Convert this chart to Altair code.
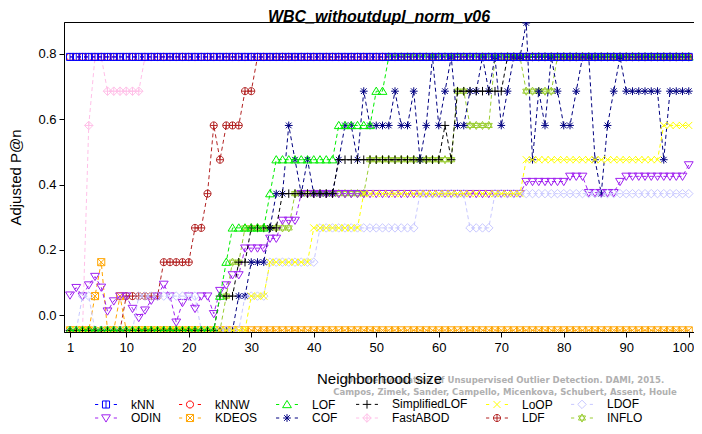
import altair as alt
import pandas as pd

# ---------------- data ----------------
k = list(range(1, 101))

kNN = [0.791, 0.791, 0.791, 0.791, 0.791, 0.791, 0.791, 0.791, 0.791, 0.791,
       0.791, 0.791, 0.791, 0.791, 0.791, 0.791, 0.791, 0.791, 0.791, 0.791,
       0.791, 0.791, 0.791, 0.791, 0.791, 0.791, 0.791, 0.791, 0.791, 0.791,
       0.791, 0.791, 0.791, 0.791, 0.791, 0.791, 0.791, 0.791, 0.791, 0.791,
       0.791, 0.791, 0.791, 0.791, 0.791, 0.791, 0.791, 0.791, 0.791, 0.791,
       0.791, 0.791, 0.791, 0.791, 0.791, 0.791, 0.791, 0.791, 0.791, 0.791,
       0.791, 0.791, 0.791, 0.791, 0.791, 0.791, 0.791, 0.791, 0.791, 0.791,
       0.791, 0.791, 0.791, 0.791, 0.791, 0.791, 0.791, 0.791, 0.791, 0.791,
       0.791, 0.791, 0.791, 0.791, 0.791, 0.791, 0.791, 0.791, 0.791, 0.791,
       0.791, 0.791, 0.791, 0.791, 0.791, 0.791, 0.791, 0.791, 0.791, 0.791]

kNNW = [0.791, 0.791, 0.791, 0.791, 0.791, 0.791, 0.791, 0.791, 0.791, 0.791,
        0.791, 0.791, 0.791, 0.791, 0.791, 0.791, 0.791, 0.791, 0.791, 0.791,
        0.791, 0.791, 0.791, 0.791, 0.791, 0.791, 0.791, 0.791, 0.791, 0.791,
        0.791, 0.791, 0.791, 0.791, 0.791, 0.791, 0.791, 0.791, 0.791, 0.791,
        0.791, 0.791, 0.791, 0.791, 0.791, 0.791, 0.791, 0.791, 0.791, 0.791,
        0.791, 0.791, 0.791, 0.791, 0.791, 0.791, 0.791, 0.791, 0.791, 0.791,
        0.791, 0.791, 0.791, 0.791, 0.791, 0.791, 0.791, 0.791, 0.791, 0.791,
        0.791, 0.791, 0.791, 0.791, 0.791, 0.791, 0.791, 0.791, 0.791, 0.791,
        0.791, 0.791, 0.791, 0.791, 0.791, 0.791, 0.791, 0.791, 0.791, 0.791,
        0.791, 0.791, 0.791, 0.791, 0.791, 0.791, 0.791, 0.791, 0.791, 0.791]

LOF = [-0.047, -0.047, -0.047, -0.047, -0.047, -0.047, -0.047, -0.047, -0.047, -0.047,
       -0.047, -0.047, -0.047, -0.047, -0.047, -0.047, -0.047, -0.047, -0.047, -0.047,
       -0.047, -0.047, -0.047, -0.047, 0.058, 0.162, 0.267, 0.267, 0.267, 0.267,
       0.267, 0.267, 0.372, 0.476, 0.476, 0.476, 0.476, 0.476, 0.476, 0.476,
       0.476, 0.476, 0.476, 0.581, 0.581, 0.581, 0.581, 0.581, 0.581, 0.686,
       0.686, 0.791, 0.791, 0.791, 0.791, 0.791, 0.791, 0.791, 0.791, 0.791,
       0.791, 0.791, 0.791, 0.791, 0.791, 0.791, 0.791, 0.791, 0.791, 0.791,
       0.791, 0.791, 0.791, 0.791, 0.791, 0.791, 0.791, 0.791, 0.791, 0.791,
       0.791, 0.791, 0.791, 0.791, 0.791, 0.791, 0.791, 0.791, 0.791, 0.791,
       0.791, 0.791, 0.791, 0.791, 0.791, 0.791, 0.791, 0.791, 0.791, 0.791]

SimplifiedLOF = [-0.047, -0.047, -0.047, -0.047, -0.047, -0.047, -0.047, -0.047, -0.047, -0.047,
                 -0.047, -0.047, -0.047, -0.047, -0.047, -0.047, -0.047, -0.047, -0.047, -0.047,
                 -0.047, -0.047, -0.047, -0.047, 0.058, 0.058, 0.058, 0.162, 0.162, 0.267,
                 0.267, 0.267, 0.267, 0.267, 0.372, 0.372, 0.372, 0.372, 0.372, 0.372,
                 0.372, 0.372, 0.372, 0.476, 0.476, 0.476, 0.476, 0.476, 0.476, 0.476,
                 0.476, 0.476, 0.476, 0.476, 0.476, 0.476, 0.476, 0.476, 0.476, 0.476,
                 0.581, 0.476, 0.686, 0.686, 0.686, 0.686, 0.686, 0.686, 0.686, 0.686,
                 0.791, 0.791, 0.791, 0.791, 0.791, 0.791, 0.791, 0.791, 0.791, 0.791,
                 0.791, 0.791, 0.791, 0.791, 0.791, 0.791, 0.791, 0.791, 0.791, 0.791,
                 0.791, 0.791, 0.791, 0.791, 0.791, 0.791, 0.791, 0.791, 0.791, 0.791]

LoOP = [-0.047, -0.047, -0.047, -0.047, -0.047, -0.047, -0.047, -0.047, -0.047, -0.047,
        -0.047, -0.047, -0.047, -0.047, -0.047, -0.047, -0.047, -0.047, -0.047, -0.047,
        -0.047, -0.047, -0.047, -0.047, -0.047, -0.047, -0.047, -0.047, -0.047, 0.058,
        0.058, 0.058, 0.162, 0.162, 0.162, 0.162, 0.162, 0.162, 0.162, 0.267,
        0.267, 0.267, 0.267, 0.267, 0.267, 0.267, 0.267, 0.372, 0.372, 0.372,
        0.372, 0.372, 0.372, 0.372, 0.372, 0.372, 0.372, 0.372, 0.372, 0.372,
        0.372, 0.372, 0.372, 0.372, 0.372, 0.372, 0.372, 0.372, 0.372, 0.372,
        0.372, 0.372, 0.372, 0.476, 0.476, 0.476, 0.476, 0.476, 0.476, 0.476,
        0.476, 0.476, 0.476, 0.476, 0.476, 0.476, 0.476, 0.476, 0.476, 0.476,
        0.476, 0.476, 0.476, 0.476, 0.476, 0.581, 0.581, 0.581, 0.581, 0.581]

LDOF = [-0.047, -0.047, 0.058, 0.058, -0.047, -0.047, -0.047, -0.047, -0.047, -0.047,
        -0.047, 0.058, 0.058, 0.058, 0.058, 0.058, 0.058, 0.058, 0.058, 0.058,
        0.058, -0.047, -0.047, -0.047, -0.047, -0.047, -0.047, -0.047, 0.058, 0.058,
        0.058, 0.058, 0.162, 0.162, 0.162, 0.162, 0.162, 0.162, 0.162, 0.162,
        0.267, 0.267, 0.267, 0.267, 0.267, 0.267, 0.267, 0.267, 0.267, 0.267,
        0.267, 0.267, 0.267, 0.267, 0.267, 0.267, 0.372, 0.372, 0.372, 0.372,
        0.372, 0.372, 0.372, 0.372, 0.267, 0.267, 0.267, 0.267, 0.372, 0.372,
        0.372, 0.372, 0.372, 0.372, 0.372, 0.372, 0.372, 0.372, 0.372, 0.372,
        0.372, 0.372, 0.372, 0.372, 0.372, 0.372, 0.372, 0.372, 0.372, 0.372,
        0.372, 0.372, 0.372, 0.372, 0.372, 0.372, 0.372, 0.372, 0.372, 0.372]

ODIN = [0.061, 0.084, 0.058, 0.092, 0.118, 0.085, 0.012, 0.043, 0.058, 0.058,
        0.020, -0.008, 0.015, 0.045, 0.058, 0.094, 0.058, -0.022, 0.038, 0.058,
        0.020, 0.058, 0.058, 0.004, 0.075, 0.092, 0.123, 0.123, 0.205, 0.205,
        0.205, 0.205, 0.235, 0.235, 0.290, 0.290, 0.290, 0.372, 0.372, 0.372,
        0.372, 0.372, 0.372, 0.372, 0.372, 0.372, 0.372, 0.372, 0.372, 0.372,
        0.372, 0.372, 0.372, 0.372, 0.372, 0.372, 0.372, 0.372, 0.372, 0.372,
        0.372, 0.372, 0.372, 0.372, 0.372, 0.372, 0.372, 0.372, 0.372, 0.372,
        0.372, 0.372, 0.372, 0.409, 0.409, 0.409, 0.409, 0.409, 0.409, 0.409,
        0.425, 0.425, 0.425, 0.375, 0.375, 0.375, 0.375, 0.375, 0.409, 0.425,
        0.425, 0.425, 0.425, 0.425, 0.425, 0.425, 0.425, 0.425, 0.425, 0.460]

KDEOS = [-0.047, -0.047, -0.047, -0.047, 0.058, 0.162, -0.047, -0.047, 0.058, -0.047,
         -0.047, -0.047, -0.047, -0.047, -0.047, -0.047, -0.047, -0.047, -0.047, -0.047,
         -0.047, -0.047, -0.047, -0.047, -0.047, -0.047, -0.047, -0.047, -0.047, -0.047,
         -0.047, -0.047, -0.047, -0.047, -0.047, -0.047, -0.047, -0.047, -0.047, -0.047,
         -0.047, -0.047, -0.047, -0.047, -0.047, -0.047, -0.047, -0.047, -0.047, -0.047,
         -0.047, -0.047, -0.047, -0.047, -0.047, -0.047, -0.047, -0.047, -0.047, -0.047,
         -0.047, -0.047, -0.047, -0.047, -0.047, -0.047, -0.047, -0.047, -0.047, -0.047,
         -0.047, -0.047, -0.047, -0.047, -0.047, -0.047, -0.047, -0.047, -0.047, -0.047,
         -0.047, -0.047, -0.047, -0.047, -0.047, -0.047, -0.047, -0.047, -0.047, -0.047,
         -0.047, -0.047, -0.047, -0.047, -0.047, -0.047, -0.047, -0.047, -0.047, -0.047]

COF = [-0.047, -0.047, -0.047, -0.047, -0.047, -0.047, -0.047, -0.047, -0.047, -0.047,
       -0.047, -0.047, -0.047, -0.047, -0.047, -0.047, -0.047, -0.047, -0.047, -0.047,
       -0.047, -0.047, -0.047, -0.047, -0.047, -0.047, -0.047, 0.058, 0.058, 0.162,
       0.162, 0.162, 0.267, 0.372, 0.372, 0.581, 0.476, 0.372, 0.476, 0.372,
       0.372, 0.372, 0.372, 0.476, 0.581, 0.581, 0.476, 0.686, 0.581, 0.581,
       0.581, 0.581, 0.686, 0.581, 0.581, 0.686, 0.476, 0.581, 0.791, 0.581,
       0.686, 0.791, 0.581, 0.581, 0.686, 0.686, 0.791, 0.686, 0.791, 0.581,
       0.686, 0.791, 0.791, 0.895, 0.476, 0.686, 0.581, 0.791, 0.686, 0.581,
       0.581, 0.686, 0.791, 0.791, 0.476, 0.372, 0.581, 0.686, 0.791, 0.686,
       0.686, 0.686, 0.686, 0.686, 0.686, 0.476, 0.686, 0.686, 0.686, 0.686]

FastABOD = [-0.047, -0.047, -0.047, 0.581, 0.791, 0.791, 0.686, 0.686, 0.686, 0.686,
            0.686, 0.686, 0.791, 0.791, 0.791, 0.791, 0.791, 0.791, 0.791, 0.791,
            0.791, 0.791, 0.791, 0.791, 0.791, 0.791, 0.791, 0.791, 0.791, 0.791,
            0.791, 0.791, 0.791, 0.791, 0.791, 0.791, 0.791, 0.791, 0.791, 0.791,
            0.791, 0.791, 0.791, 0.791, 0.791, 0.791, 0.791, 0.791, 0.791, 0.791,
            0.791, 0.791, 0.791, 0.791, 0.791, 0.791, 0.791, 0.791, 0.791, 0.791,
            0.791, 0.791, 0.791, 0.791, 0.791, 0.791, 0.791, 0.791, 0.791, 0.791,
            0.791, 0.791, 0.791, 0.791, 0.791, 0.791, 0.791, 0.791, 0.791, 0.791,
            0.791, 0.791, 0.791, 0.791, 0.791, 0.791, 0.791, 0.791, 0.791, 0.791,
            0.791, 0.791, 0.791, 0.791, 0.791, 0.791, 0.791, 0.791, 0.791, 0.791]

LDF = [-0.047, -0.047, -0.047, -0.047, -0.047, -0.047, -0.047, -0.047, -0.047, 0.058,
       0.058, 0.058, 0.058, 0.058, 0.058, 0.162, 0.162, 0.162, 0.162, 0.162,
       0.267, 0.267, 0.372, 0.581, 0.476, 0.581, 0.581, 0.581, 0.686, 0.686,
       0.791, 0.791, 0.791, 0.791, 0.791, 0.791, 0.791, 0.791, 0.791, 0.791,
       0.791, 0.791, 0.791, 0.791, 0.791, 0.791, 0.791, 0.791, 0.791, 0.791,
       0.791, 0.791, 0.791, 0.791, 0.791, 0.791, 0.791, 0.791, 0.791, 0.791,
       0.791, 0.791, 0.791, 0.791, 0.791, 0.791, 0.791, 0.791, 0.791, 0.791,
       0.791, 0.791, 0.791, 0.791, 0.791, 0.791, 0.791, 0.791, 0.791, 0.791,
       0.791, 0.791, 0.791, 0.791, 0.791, 0.791, 0.791, 0.791, 0.791, 0.791,
       0.791, 0.791, 0.791, 0.791, 0.791, 0.791, 0.791, 0.791, 0.791, 0.791]

INFLO = [-0.047, -0.047, -0.047, -0.047, -0.047, -0.047, -0.047, -0.047, -0.047, -0.047,
         -0.047, -0.047, -0.047, -0.047, -0.047, -0.047, -0.047, -0.047, -0.047, -0.047,
         -0.047, -0.047, -0.047, -0.047, -0.047, 0.058, 0.162, 0.162, 0.267, 0.267,
         0.267, 0.267, 0.267, 0.267, 0.267, 0.267, 0.372, 0.372, 0.372, 0.372,
         0.372, 0.372, 0.372, 0.372, 0.372, 0.372, 0.372, 0.372, 0.476, 0.476,
         0.476, 0.476, 0.476, 0.476, 0.476, 0.476, 0.476, 0.476, 0.476, 0.476,
         0.476, 0.476, 0.686, 0.686, 0.581, 0.581, 0.581, 0.581, 0.791, 0.791,
         0.791, 0.791, 0.791, 0.686, 0.686, 0.686, 0.686, 0.686, 0.791, 0.791,
         0.791, 0.791, 0.791, 0.791, 0.791, 0.791, 0.791, 0.791, 0.791, 0.791,
         0.791, 0.791, 0.791, 0.791, 0.791, 0.791, 0.791, 0.791, 0.791, 0.791]

series = {
    "kNN": kNN, "kNNW": kNNW, "LOF": LOF, "SimplifiedLOF": SimplifiedLOF,
    "LoOP": LoOP, "LDOF": LDOF, "ODIN": ODIN, "KDEOS": KDEOS, "COF": COF,
    "FastABOD": FastABOD, "LDF": LDF, "INFLO": INFLO,
}

legend_order = ["kNN", "kNNW", "LOF", "SimplifiedLOF", "LoOP", "LDOF",
                "ODIN", "KDEOS", "COF", "FastABOD", "LDF", "INFLO"]
draw_order = ["INFLO", "LDF", "FastABOD", "COF", "KDEOS", "ODIN", "LDOF",
              "LoOP", "SimplifiedLOF", "LOF", "kNNW", "kNN"]

x_ticks = [1, 10, 20, 30, 40, 50, 60, 70, 80, 90, 100]
y_ticks = [0.0, 0.2, 0.4, 0.6, 0.8]

title_text = "WBC_withoutdupl_norm_v06"
watermark = ["On the Evaluation of Unsupervised Outlier Detection. DAMI, 2015.",
             "Campos, Zimek, Sander, Campello, Micenkova, Schubert, Assent, Houle"]

# ---------------- styles ----------------
colors = {
    "kNN": "#0000FF", "kNNW": "#FF0000", "LOF": "#00EE00", "SimplifiedLOF": "#000000",
    "LoOP": "#FFFF00", "LDOF": "#C8C8FF", "ODIN": "#A020F0", "KDEOS": "#FFA500",
    "COF": "#000080", "FastABOD": "#FFC0E8", "LDF": "#B22222", "INFLO": "#9ACD32",
}
CIRC = "M1,0A1,1,0,1,1,-1,0A1,1,0,1,1,1,0Z"
shapes = {
    "kNN": "M-1,-1H1V1H-1ZM0,-1V1",
    "kNNW": CIRC,
    "LOF": "M0,-1.15L1.25,0.9H-1.25Z",
    "SimplifiedLOF": "M-1.2,0H1.2M0,-1.2V1.2",
    "LoOP": "M-1,-1L1,1M-1,1L1,-1",
    "LDOF": "M0,-1.2L1.2,0L0,1.2L-1.2,0Z",
    "ODIN": "M0,1.15L1.25,-0.9H-1.25Z",
    "KDEOS": "M-1,-1H1V1H-1ZM-1,-1L1,1M-1,1L1,-1",
    "COF": "M-1.1,0H1.1M0,-1.1V1.1M-0.8,-0.8L0.8,0.8M-0.8,0.8L0.8,-0.8",
    "FastABOD": "M0,-1.2L1.2,0L0,1.2L-1.2,0ZM-1.2,0H1.2M0,-1.2V1.2",
    "LDF": CIRC + "M-1,0H1M0,-1V1",
    "INFLO": "M0,-1.15L1,0.58H-1ZM0,1.15L1,-0.58H-1Z",
}
DASHES = "M-3.1,0H-2.2M2.2,0H3.1"
legend_shapes = [shapes[m] + DASHES for m in legend_order]

FONT = "Liberation Sans"

rows = []
for name, vals in series.items():
    for kk, v in zip(k, vals):
        rows.append({"method": name, "k": kk, "value": v})
df = pd.DataFrame(rows)

x_enc = alt.X("k:Q",
              scale=alt.Scale(domain=[0.04, 100.84], nice=False, zero=False),
              axis=alt.Axis(values=x_ticks, title="Neighborhood size", grid=False,
                            tickSize=5, tickColor="black", domainColor="black",
                            labelColor="black", labelFontSize=13, labelFont=FONT,
                            labelPadding=4, labelFlush=5.5, labelFlushOffset=5,
                            titleFont=FONT,
                            titleFontSize=15, titleFontWeight="normal",
                            titleColor="black", titlePadding=17, zindex=1))
y_enc = alt.Y("value:Q",
              scale=alt.Scale(domain=[-0.052, 0.898], nice=False, zero=False),
              axis=alt.Axis(values=y_ticks, format=".1f", title="Adjusted P@n",
                            grid=False, tickSize=5, tickColor="black",
                            domainColor="black", labelColor="black",
                            labelFontSize=13, labelFont=FONT, labelPadding=3,
                            labelFlush=False, titleFont=FONT, titleFontSize=15,
                            titleFontWeight="normal", titleColor="black",
                            titlePadding=14, zindex=1))

base = alt.Chart(df)
layers = []
wm = alt.Chart(pd.DataFrame({"t": [watermark]})).mark_text(
    font="DejaVu Sans Condensed, DejaVu Sans", fontWeight="bold", fontSize=9.5,
    color="#B0B0B0", align="center", baseline="middle", lineHeight=12,
    text=watermark).encode(x=alt.value(441), y=alt.value(358))
layers.append(wm)

for m in draw_order:
    sub = base.transform_filter(alt.datum.method == m)
    layers.append(sub.mark_line(color=colors[m], strokeDash=[4, 3], strokeWidth=1,
                                clip=True).encode(x=x_enc, y=y_enc))
    layers.append(sub.mark_point(shape=shapes[m], color=colors[m], filled=False,
                                 size=50, strokeWidth=1, opacity=1,
                                 clip=True).encode(x=x_enc, y=y_enc))

legend_layer = base.transform_filter("false").mark_point(
    filled=False, size=50, strokeWidth=1, opacity=1).encode(
    x=x_enc, y=y_enc,
    color=alt.Color("method:N",
                    scale=alt.Scale(domain=legend_order,
                                    range=[colors[m] for m in legend_order]),
                    legend=alt.Legend(title=None, orient="none", legendX=36,
                                      legendY=376, direction="horizontal",
                                      columns=6, gridAlign="each",
                                      columnPadding=16, rowPadding=0,
                                      symbolSize=50, symbolStrokeWidth=1,
                                      labelFont=FONT, labelFontSize=12,
                                      labelColor="black", labelOffset=19,
                                      padding=0)),
    shape=alt.Shape("method:N",
                    scale=alt.Scale(domain=legend_order, range=legend_shapes)))
layers.append(legend_layer)

chart = alt.layer(*layers).properties(
    width=630, height=310,
    title=alt.TitleParams(title_text, font=FONT, fontSize=16, fontWeight="bold",
                          fontStyle="italic", color="black", anchor="middle",
                          offset=-3),
    autosize=alt.AutoSizeParams(type="none"),
    padding={"left": 56, "top": 14, "right": 0, "bottom": 94},
).configure_view(stroke="black", strokeWidth=1)

chart.save("out.html", embed_options={"renderer": "svg", "actions": False})
